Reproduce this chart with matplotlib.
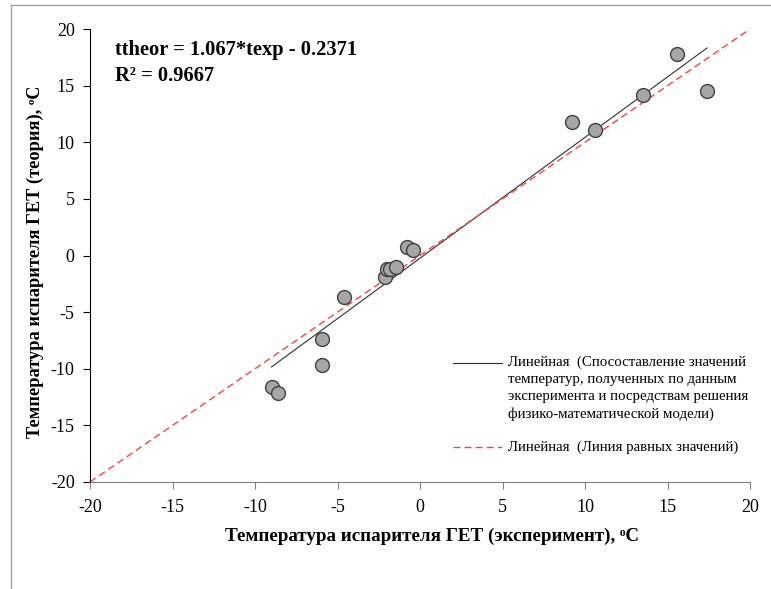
import numpy as np
import matplotlib.pyplot as plt
from matplotlib.lines import Line2D

plt.rcParams['font.family'] = ['Liberation Serif', 'DejaVu Serif']
plt.rcParams['axes.unicode_minus'] = False

# ---- data ----
t_exp = [-9.0, -8.6, -5.95, -5.95, -4.6, -2.1, -2.0, -1.8, -1.45, -0.8, -0.45,
         9.2, 10.6, 13.5, 15.6, 17.4]
t_theor = [-11.6, -12.1, -7.35, -9.7, -3.65, -1.9, -1.15, -1.2, -1.0, 0.75, 0.5,
           11.8, 11.1, 14.2, 17.8, 14.5]
fit_slope = 1.067
fit_icpt = -0.2371
r2 = 0.9667
equal_range = [-20, 20]
ticks = [-20, -15, -10, -5, 0, 5, 10, 15, 20]

fig = plt.figure(figsize=(7.71, 5.89), dpi=100)
ax = fig.add_axes([90 / 771, 1 - 482 / 589, 660 / 771, 453 / 589])

# outer frame (only left and top edges are visible)
fig.add_artist(Line2D([11 / 771, 11 / 771], [0, 1 - 5 / 589], transform=fig.transFigure,
                      color='#a0a0a0', lw=1))
fig.add_artist(Line2D([11 / 771, 1], [1 - 5 / 589, 1 - 5 / 589], transform=fig.transFigure,
                      color='#a0a0a0', lw=1))

# points
ax.scatter(t_exp, t_theor, s=100, facecolor='#a6a6a6', edgecolor='#404040',
           linewidth=1, zorder=3)

# trend line over the data range
xf = np.array([min(t_exp), max(t_exp)])
ax.plot(xf, fit_slope * xf + fit_icpt, color='#303030', lw=0.8, zorder=2)

# line of equal values
ax.plot(equal_range, equal_range, color='#ff4040', lw=1, dashes=(5, 3), zorder=2)

ax.set_xlim(-20, 20)
ax.set_ylim(-20, 20)
ax.set_xticks(ticks)
ax.set_yticks(ticks)
for s in ['top', 'right']:
    ax.spines[s].set_visible(False)
ax.spines['left'].set_color('black')
ax.spines['bottom'].set_color('#808080')
ax.tick_params(axis='x', direction='out', length=5, colors='#808080',
               labelcolor='black', labelsize=13, pad=7)
ax.tick_params(axis='y', direction='out', length=5, colors='black', labelsize=13, pad=6)

ax.set_xlabel('Температура испарителя ГЕТ (эксперимент), \u1d52C', fontsize=13.7,
              fontweight='bold', labelpad=9)
ax.set_ylabel('Температура испарителя ГЕТ (теория), \u1d52C', fontsize=13.2,
              fontweight='bold', labelpad=5)
ax.xaxis.label.set_x(0.518)
ax.yaxis.label.set_y(0.486)

ax.text(0.038, 0.975, 'ttheor = %.3f*texp - %.4f' % (fit_slope, -fit_icpt),
        transform=ax.transAxes, fontsize=14.8, fontweight='bold', va='top')
ax.text(0.038, 0.918, 'R² = %.4f' % r2, transform=ax.transAxes,
        fontsize=14.8, fontweight='bold', va='top')

# legend, drawn by hand so the handle sits on the first text line
def px(x, y):
    return x / 771, 1 - y / 589

lx0, _ = px(453, 0)
lx1, _ = px(502, 0)
tx, _ = px(508, 0)
_, y1 = px(0, 363)
_, y1t = px(0, 356)
_, y2 = px(0, 447)
fig.add_artist(Line2D([lx0, lx1], [y1, y1], transform=fig.transFigure,
                      color='#303030', lw=0.8))
fig.add_artist(Line2D([lx0, lx1], [y2, y2], transform=fig.transFigure,
                      color='#ff4040', lw=1, dashes=(5, 3)))
fig.text(tx, y1t, 'Линейная  (Спосоставление значений\n'
                  'температур, полученных по данным\n'
                  'эксперимента и посредствам решения\n'
                  'физико-математической модели)',
         fontsize=10.7, va='top', ha='left', linespacing=1.38)
fig.text(tx, y2, 'Линейная  (Линия равных значений)', fontsize=10.7,
         va='center', ha='left')

fig.savefig('out.png', dpi=100)
